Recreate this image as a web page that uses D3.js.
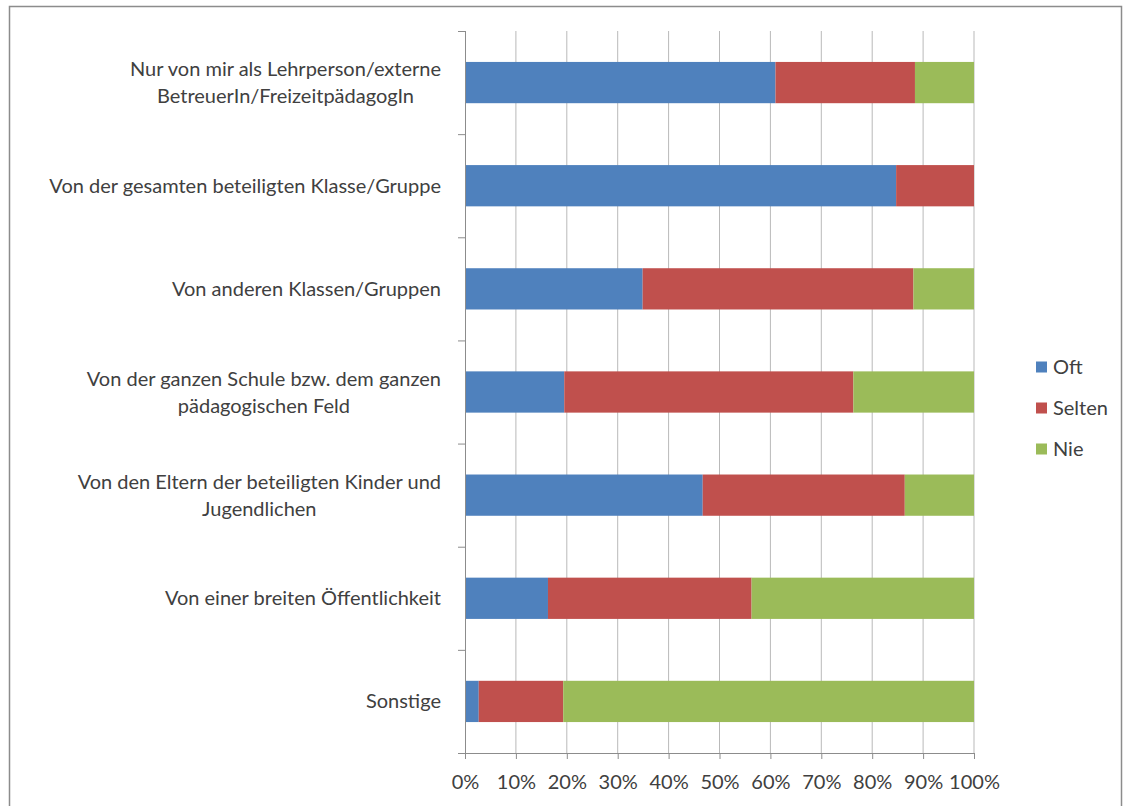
<!DOCTYPE html>
<html><head><meta charset="utf-8">
<script src="https://cdn.jsdelivr.net/npm/d3@7"></script>
<style>body{margin:0;background:#fff;} text{font-family:Lato, "Open Sans", sans-serif;}</style>
</head><body><svg id="c" width="1127" height="806"></svg>
<script>
const categories = [
  ["Nur von mir als Lehrperson/externe", "BetreuerIn/FreizeitpädagogIn"],
  ["Von der gesamten beteiligten Klasse/Gruppe"],
  ["Von anderen Klassen/Gruppen"],
  ["Von der ganzen Schule bzw. dem ganzen", "pädagogischen Feld"],
  ["Von den Eltern der beteiligten Kinder und", "Jugendlichen"],
  ["Von einer breiten Öffentlichkeit"],
  ["Sonstige"]
];
const seriesNames = ["Oft", "Selten", "Nie"];
const oft    = [61.0, 84.7, 34.9, 19.5, 46.7, 16.3, 2.7];
const selten = [27.4, 15.3, 53.2, 56.8, 39.7, 40.0, 16.6];
const nie    = [11.6, 0.0, 11.9, 23.7, 13.6, 43.7, 80.7];
const tickValues = [0,10,20,30,40,50,60,70,80,90,100];
const colors = ["#4F81BD", "#C0504D", "#9BBB59"];

const svg = d3.select("#c");
svg.append("rect").attr("x",9.5).attr("y",6.5).attr("width",1112).attr("height",820)
  .attr("fill","none").attr("stroke","#8c8c8c").attr("stroke-width",1.5);

const L = 465, R = 974, T = 31, B = 753;
const FS = 20;
const x = d3.scaleLinear().domain([0,100]).range([L,R]);
const y = d3.scaleBand().domain(d3.range(categories.length)).range([T,B]).paddingInner(0.6).paddingOuter(0.3);

// gridlines
svg.append("g").selectAll("line").data(tickValues.slice(1)).join("line")
  .attr("x1",d=>x(d)).attr("x2",d=>x(d)).attr("y1",T).attr("y2",B)
  .attr("stroke","#b9b9b9").attr("stroke-width",1);

const rows = categories.map((c,i)=>({i, Oft:oft[i], Selten:selten[i], Nie:nie[i]}));
const stack = d3.stack().keys(seriesNames)(rows);
svg.append("g").selectAll("g").data(stack).join("g").attr("fill",(d,k)=>colors[k])
  .selectAll("rect").data(d=>d).join("rect")
  .attr("x",d=>x(d[0])).attr("width",d=>Math.max(0,x(Math.min(100,d[1]))-x(d[0])))
  .attr("y",d=>y(d.data.i)).attr("height",y.bandwidth());

// x axis
const xa = svg.append("g").attr("transform",`translate(0,${B})`)
  .call(d3.axisBottom(x).tickValues(tickValues).tickFormat(d=>d+"%").tickSize(6).tickSizeOuter(0));
xa.select(".domain").attr("stroke","#8c8c8c");
xa.selectAll(".tick line").attr("stroke","#8c8c8c");
xa.selectAll("text").attr("font-size",FS).attr("fill","#404040").attr("y",29).attr("dy","0.35em")
  .style("font-family","Lato, sans-serif");
svg.append("line").attr("x1",L-7).attr("x2",L).attr("y1",B+0.5).attr("y2",B+0.5).attr("stroke","#8c8c8c");

// y axis line and boundary ticks
svg.append("line").attr("x1",L+0.5).attr("x2",L+0.5).attr("y1",T).attr("y2",B).attr("stroke","#8c8c8c");
const step = (B-T)/categories.length;
svg.append("g").selectAll("line").data(d3.range(categories.length)).join("line")
  .attr("x1",L-7).attr("x2",L).attr("y1",d=>T+d*step+0.5).attr("y2",d=>T+d*step+0.5).attr("stroke","#8c8c8c");

// category labels
const lab = svg.append("g");
categories.forEach((lines,i)=>{
  const cy = y(i)+y.bandwidth()/2;
  const g = lab.append("g");
  const n = lines.length;
  const texts = lines.map((t,j)=>g.append("text").text(t).attr("font-size",FS).attr("fill","#404040")
    .attr("y",cy+(j-(n-1)/2)*27).attr("dy","0.35em").attr("text-anchor","middle"));
  const w = d3.max(texts,t=>t.node().getComputedTextLength());
  texts.forEach(t=>t.attr("x",441-w/2));
});

// legend
const lg = svg.append("g");
seriesNames.forEach((s,k)=>{
  const yy = 367 + k*41;
  lg.append("rect").attr("x",1036).attr("y",yy-5.5).attr("width",11).attr("height",11).attr("fill",colors[k]);
  lg.append("text").attr("x",1053).attr("y",yy).attr("dy","0.35em").attr("font-size",FS).attr("fill","#404040").text(s);
});
</script></body></html>
